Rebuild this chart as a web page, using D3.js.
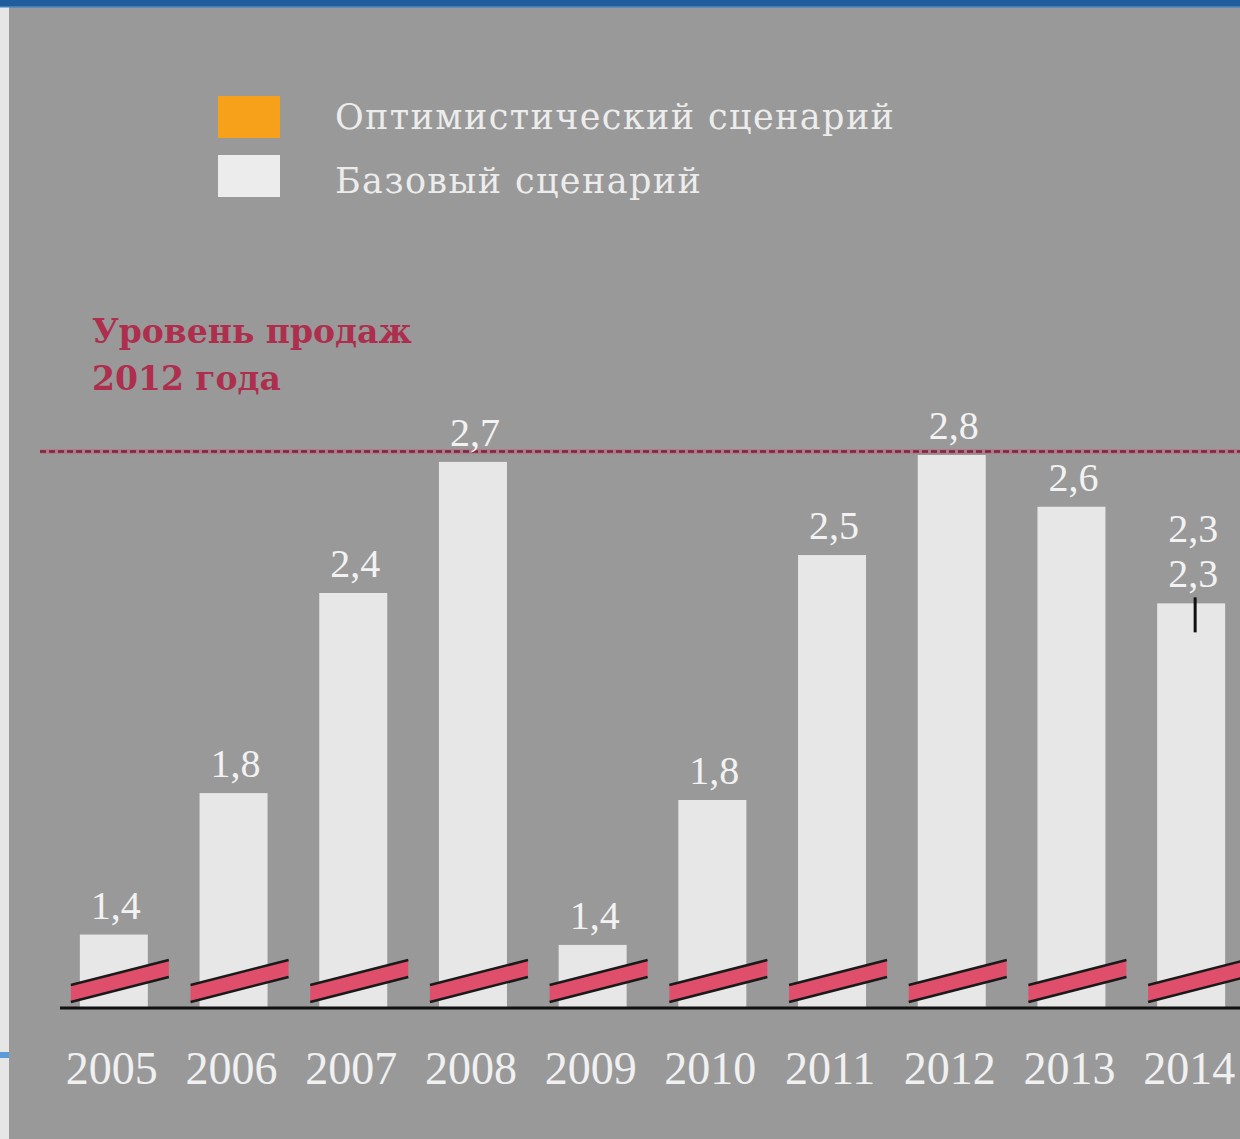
<!DOCTYPE html>
<html><head><meta charset="utf-8">
<script src="https://cdn.jsdelivr.net/npm/d3@7"></script>
<style>html,body{margin:0;padding:0;background:#999999;overflow:hidden}</style>
</head><body>
<svg id="chart" width="1240" height="1139"></svg>
<script>
// ---- data ----
const years = ["2005","2006","2007","2008","2009","2010","2011","2012","2013","2014"];
const baseValues = [1.41, 1.82, 2.40, 2.78, 1.38, 1.80, 2.51, 2.80, 2.65, 2.37];
const baseLabels = ["1,4","1,8","2,4","2,7","1,4","1,8","2,5","2,8","2,6","2,3"];
const optimisticYears = ["2014"];
const optimisticLabels = ["2,3"];
const level2012 = 2.81;
const legendItems = ["Оптимистический сценарий", "Базовый сценарий"];
const levelText = ["Уровень продаж", "2012 года"];

// ---- setup ----
const W = 1240, H = 1139;
const svg = d3.select("#chart");
const baseY = 1007;
const x = d3.scaleBand().domain(years).range([54, 1251]).paddingInner(0.432).paddingOuter(0.216);
const y = d3.scaleLinear().domain([1.2, 2.8]).range([baseY, 455]);
const serif = "'DejaVu Serif', 'Liberation Serif', serif";
const numFont = "'Liberation Serif', 'DejaVu Serif', serif";

// background frame
svg.append("rect").attr("x",0).attr("y",0).attr("width",W).attr("height",H).attr("fill","#999999");
svg.append("rect").attr("x",0).attr("y",0).attr("width",9).attr("height",H).attr("fill","#e6e6e6");
svg.append("rect").attr("x",0).attr("y",1052).attr("width",9).attr("height",6).attr("fill","#5b9bd8");
svg.append("rect").attr("x",0).attr("y",0).attr("width",W).attr("height",6).attr("fill","#1f5d9c");
svg.append("rect").attr("x",0).attr("y",6).attr("width",W).attr("height",1.5).attr("fill","#3b7cc2");

// legend
const legendColors = ["#f7a11a", "#ececec"];
const lg = svg.append("g");
legendItems.forEach((t,i)=>{
  lg.append("rect").attr("x",218).attr("y",96 + i*59).attr("width",62).attr("height",42).attr("fill",legendColors[i]);
  lg.append("text").attr("x",335).attr("y",129 + i*64).text(t)
    .attr("font-family",serif).attr("font-size",35).attr("letter-spacing",1.4)
    .attr("font-weight",500).attr("fill","#ececec");
});

// level label
levelText.forEach((t,i)=>{
  svg.append("text").attr("x",92).attr("y",343 + i*47).text(t)
    .attr("font-family",serif).attr("font-weight","bold").attr("font-size",33).attr("fill","#ad2f4d");
});

// bars
svg.append("g").selectAll("rect").data(years).join("rect")
  .attr("x",d=>x(d)).attr("width",x.bandwidth())
  .attr("y",(d,i)=>y(baseValues[i])).attr("height",(d,i)=>baseY - y(baseValues[i]))
  .attr("fill","#e7e7e7");

// dotted 2012 level line
svg.append("line").attr("x1",40).attr("x2",W).attr("y1",y(level2012)).attr("y2",y(level2012))
  .attr("stroke","#c2607a").attr("stroke-opacity",0.5).attr("stroke-width",5);
svg.append("line").attr("x1",40).attr("x2",W).attr("y1",y(level2012)).attr("y2",y(level2012))
  .attr("stroke","#7a2440").attr("stroke-width",2.5).attr("stroke-dasharray","6,3");

// value labels
svg.append("g").selectAll("text").data(years).join("text")
  .attr("x",d=>x(d)+x.bandwidth()/2+2).attr("y",(d,i)=>y(baseValues[i])-16)
  .attr("text-anchor","middle").attr("font-family",numFont).attr("font-size",40).attr("fill","#f2f2f2")
  .text((d,i)=>baseLabels[i]);
optimisticYears.forEach((yr,k)=>{
  const i = years.indexOf(yr);
  svg.append("text").attr("x",x(yr)+x.bandwidth()/2+2).attr("y",y(baseValues[i])-61)
    .attr("text-anchor","middle").attr("font-family",numFont).attr("font-size",40).attr("fill","#f2f2f2")
    .text(optimisticLabels[k]);
  svg.append("line").attr("x1",x(yr)+x.bandwidth()/2+4).attr("x2",x(yr)+x.bandwidth()/2+4)
    .attr("y1",y(baseValues[i])-6).attr("y2",y(baseValues[i])+29)
    .attr("stroke","#111").attr("stroke-width",3);
});

// break slashes
const sg = svg.append("g");
years.forEach(d=>{
  const xl = x(d)-9, xr = x(d)+x.bandwidth()+21;
  const yl = baseY-5, yr = baseY-30, th = 17;
  sg.append("polygon").attr("points",[[xl,yl],[xr,yr],[xr,yr-th],[xl,yl-th]].map(p=>p.join(",")).join(" "))
    .attr("fill","#df4f6c");
  sg.append("line").attr("x1",xl).attr("y1",yl).attr("x2",xr).attr("y2",yr).attr("stroke","#1a1a1a").attr("stroke-width",2.5);
  sg.append("line").attr("x1",xl).attr("y1",yl-th).attr("x2",xr).attr("y2",yr-th).attr("stroke","#1a1a1a").attr("stroke-width",2.5);
});

// baseline axis
svg.append("line").attr("x1",60).attr("x2",W).attr("y1",baseY+1).attr("y2",baseY+1)
  .attr("stroke","#111").attr("stroke-width",3);

// year axis labels
const xAxis = d3.axisBottom(x).tickSize(0).tickPadding(0);
const ag = svg.append("g").attr("transform",`translate(-2,${baseY})`).call(xAxis);
ag.select(".domain").remove();
ag.selectAll("text").attr("dy",0).attr("y",77).attr("font-family",numFont).attr("font-size",46).attr("fill","#f0f0f0");
</script>
</body></html>
